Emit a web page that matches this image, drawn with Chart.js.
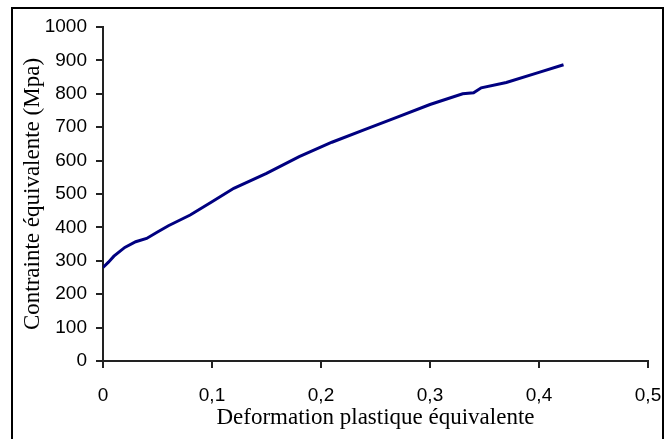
<!DOCTYPE html>
<html>
<head>
<meta charset="utf-8">
<script src="https://cdn.jsdelivr.net/npm/chart.js@4/dist/chart.umd.min.js"></script>
<style>
  html, body { margin: 0; padding: 0; background: #fff; }
  #wrap { width: 666px; height: 439px; }
</style>
</head>
<body>
<div id="wrap"><canvas id="chart" width="666" height="439"></canvas></div>
<script>
// deformation plastique (x) et contrainte (y)
const deformation = [0, 0.005, 0.01, 0.02, 0.03, 0.04, 0.05, 0.06, 0.08, 0.1, 0.12, 0.15, 0.18, 0.21, 0.24, 0.27, 0.3, 0.33, 0.34, 0.347, 0.37, 0.4, 0.4225];
const contrainte  = [280, 296, 314, 340, 357, 367, 386, 405, 437, 477, 517, 562, 612, 655, 693, 730, 768, 800, 803, 818, 834, 864, 887];
const xTicks = [0, 0.1, 0.2, 0.3, 0.4, 0.5];
const yTicks = [0, 100, 200, 300, 400, 500, 600, 700, 800, 900, 1000];

const points = deformation.map((d, i) => ({ x: d, y: contrainte[i] }));

// cadre autour du graphique
const cadre = {
  id: 'cadre',
  afterDraw(chart) {
    const ctx = chart.ctx;
    ctx.save();
    ctx.strokeStyle = '#000';
    ctx.lineWidth = 2;
    ctx.strokeRect(12, 8, 651, 480);
    ctx.restore();
  }
};

new Chart(document.getElementById('chart').getContext('2d'), {
  type: 'line',
  data: {
    datasets: [{
      data: points,
      borderColor: '#000080',
      borderWidth: 3,
      pointRadius: 0,
      tension: 0,
      fill: false
    }]
  },
  options: {
    responsive: false,
    animation: false,
    layout: { autoPadding: false, padding: { left: 19, right: 18, top: 27, bottom: 7 } },
    plugins: { legend: { display: false }, tooltip: { enabled: false } },
    scales: {
      x: {
        type: 'linear',
        min: 0, max: 0.5,
        afterBuildTicks(axis) { axis.ticks = xTicks.map(v => ({ value: v })); },
        afterFit(axis) { axis.height = 71; axis.paddingLeft = 0; axis.paddingRight = 0; },
        grid: { drawOnChartArea: false, tickLength: 7, color: '#222', lineWidth: 2 },
        border: { color: '#222', width: 2 },
        ticks: {
          color: '#000', padding: 16, maxRotation: 0,
          font: { family: 'Liberation Sans', size: 19 },
          callback: v => String(v).replace('.', ',')
        },
        title: {
          display: true, text: 'Deformation plastique équivalente', color: '#000',
          font: { family: 'Liberation Serif', size: 23 }, padding: { top: 0, bottom: 0 }
        }
      },
      y: {
        min: 0, max: 1000,
        afterBuildTicks(axis) { axis.ticks = yTicks.map(v => ({ value: v })); },
        afterFit(axis) { axis.width = 84; axis.paddingTop = 0; axis.paddingBottom = 0; },
        grid: { drawOnChartArea: false, tickLength: 7, color: '#222', lineWidth: 2 },
        border: { color: '#222', width: 2 },
        ticks: {
          color: '#000', padding: 9,
          font: { family: 'Liberation Sans', size: 19 },
          callback: v => String(v)
        },
        title: {
          display: true, text: 'Contrainte équivalente (Mpa)', color: '#000',
          font: { family: 'Liberation Serif', size: 23 }, padding: { top: 0, bottom: 0 }
        }
      }
    }
  },
  plugins: [cadre]
});
</script>
</body>
</html>
